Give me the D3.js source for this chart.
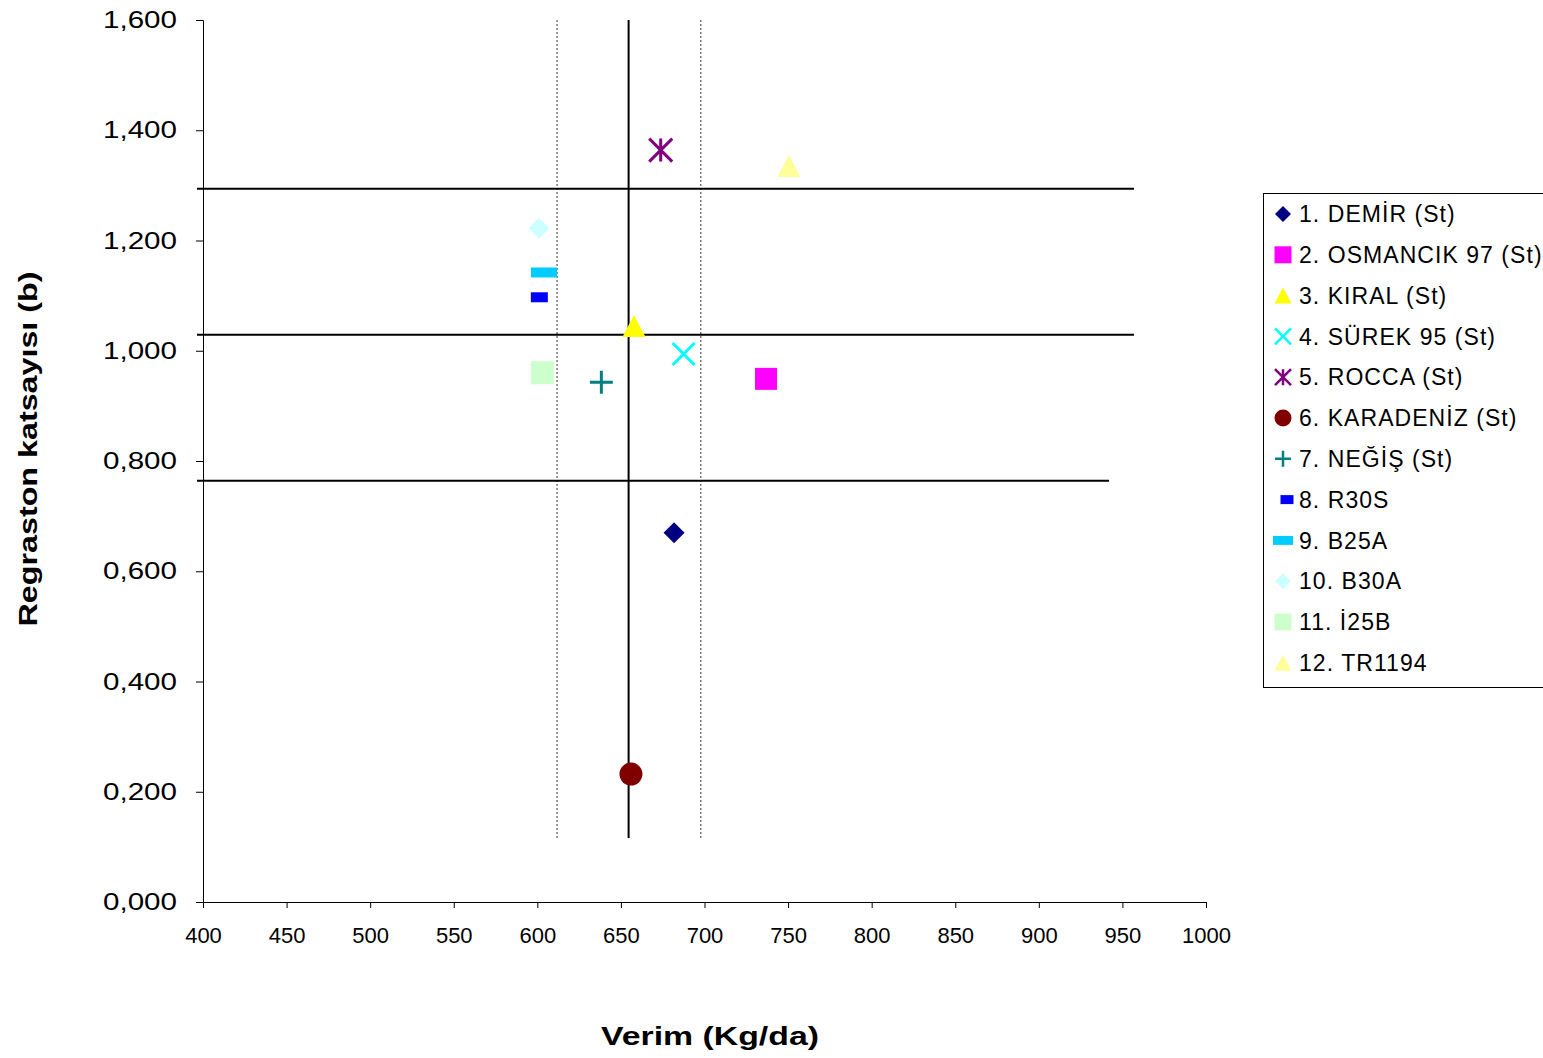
<!DOCTYPE html>
<html>
<head>
<meta charset="utf-8">
<script src="https://cdn.jsdelivr.net/npm/d3@7"></script>
<style>
  html, body { margin: 0; padding: 0; background: #fff; }
  svg { display: block; font-family: "Liberation Sans", Arial, sans-serif; }
</style>
</head>
<body>
<svg id="chart" width="1543" height="1058"></svg>
<script>
// Cultivars with mean yield (kg/da) and regression coefficient (b)
const cultivars = [
  "1. DEMİR (St)", "2. OSMANCIK 97 (St)", "3. KIRAL (St)", "4. SÜREK 95 (St)",
  "5. ROCCA (St)", "6. KARADENİZ (St)", "7. NEĞİŞ (St)", "8. R30S",
  "9. B25A", "10. B30A", "11. İ25B", "12. TR1194"
];
const yieldKgDa = [681.8, 736.8, 657.8, 687.5, 673.8, 656.0, 638.3, 601.2, 604.0, 601.0, 603.0, 750.5];
const regressionB = [0.670, 0.949, 1.045, 0.994, 1.364, 0.232, 0.943, 1.097, 1.142, 1.222, 0.960, 1.335];

// Axis ticks
const xTicks = [400, 450, 500, 550, 600, 650, 700, 750, 800, 850, 900, 950, 1000];
const yTicks = [0, 0.2, 0.4, 0.6, 0.8, 1.0, 1.2, 1.4, 1.6];

// Reference lines: mean yield ± deviation, mean b ± deviation
const yieldRefs = [611.8, 654.6, 697.8];
const yieldRefSpan = [0.116, 1.6];
const bRefs = [1.294, 1.029, 0.764];
const bRefEnds = [956.9, 956.9, 942.0];
const bRefStart = 396.4;

// Marker styling per cultivar
const markerStyle = [
  { shape: "diamond",  color: "#000080", w: 21, h: 21, lw: 16, lh: 16 },
  { shape: "square",   color: "#FF00FF", w: 22, h: 22, lw: 17, lh: 17 },
  { shape: "triangle", color: "#FFFF00", w: 23, h: 22, lw: 17, lh: 16 },
  { shape: "x",        color: "#00FFFF", w: 22, h: 22, lw: 16, lh: 16 },
  { shape: "star",     color: "#800080", w: 23, h: 23, lw: 16, lh: 16 },
  { shape: "circle",   color: "#800000", w: 23, h: 23, lw: 17, lh: 17 },
  { shape: "plus",     color: "#008080", w: 23, h: 23, lw: 16, lh: 16 },
  { shape: "rect",     color: "#0000FF", w: 17, h: 10, lw: 13, lh: 9 },
  { shape: "rect",     color: "#00CCFF", w: 26, h: 10, lw: 20, lh: 9 },
  { shape: "diamond",  color: "#CCFFFF", w: 21, h: 21, lw: 16, lh: 16 },
  { shape: "square",   color: "#CCFFCC", w: 23, h: 23, lw: 17, lh: 17 },
  { shape: "triangle", color: "#FFFF99", w: 23, h: 22, lw: 17, lh: 16 }
];

const svg = d3.select("#chart");
const x = d3.scaleLinear().domain([400, 1000]).range([203, 1206]);
const y = d3.scaleLinear().domain([0, 1.6]).range([902, 20]);

function shapePath(shape, w, h) {
  const a = w / 2, b = h / 2;
  switch (shape) {
    case "diamond":  return `M0,${-b}L${a},0L0,${b}L${-a},0Z`;
    case "square":
    case "rect":     return `M${-a},${-b}H${a}V${b}H${-a}Z`;
    case "triangle": return `M0,${-b}L${a},${b}L${-a},${b}Z`;
    case "circle":   return d3.symbol(d3.symbolCircle, Math.PI * a * a)();
    case "x":        return `M${-a},${-b}L${a},${b}M${a},${-b}L${-a},${b}`;
    case "plus":     return `M${-a},0H${a}M0,${-b}V${b}`;
    case "star":     return `M${-a},${-b}L${a},${b}M${a},${-b}L${-a},${b}M0,${-b}V${b}`;
  }
}
const stroked = s => s === "x" || s === "plus" || s === "star";

function drawMarker(g, st, w, h, sw) {
  const p = g.append("path").attr("d", shapePath(st.shape, w, h));
  if (stroked(st.shape)) {
    p.attr("fill", "none").attr("stroke", st.color).attr("stroke-width", sw);
  } else {
    p.attr("fill", st.color);
  }
}

// Axes
const xAxis = svg.append("g").attr("transform", `translate(0,${y(0)})`)
  .call(d3.axisBottom(x).tickValues(xTicks).tickSize(6).tickPadding(19).tickFormat(d3.format("d")));
xAxis.select(".domain").attr("stroke", "#000");
xAxis.selectAll(".tick line").attr("stroke", "#000");
xAxis.selectAll("text").attr("font-size", 22).attr("fill", "#000")
  .attr("font-family", "'Liberation Sans', Arial, sans-serif");

const yAxis = svg.append("g").attr("transform", `translate(${x(400)},0)`)
  .call(d3.axisLeft(y).tickValues(yTicks).tickSize(7).tickPadding(19)
    .tickFormat(d => d3.format(".3f")(d).replace(".", ",")));
yAxis.select(".domain").attr("stroke", "#000");
yAxis.selectAll(".tick line").attr("stroke", "#000");
yAxis.selectAll("text").attr("font-size", 24).attr("fill", "#000")
  .attr("font-family", "'Liberation Sans', Arial, sans-serif")
  .attr("textLength", 74).attr("lengthAdjust", "spacingAndGlyphs");

// Reference lines
svg.append("g").selectAll("line").data(yieldRefs).join("line")
  .attr("x1", d => x(d)).attr("x2", d => x(d))
  .attr("y1", y(yieldRefSpan[1])).attr("y2", y(yieldRefSpan[0]))
  .attr("stroke", (d, i) => i === 1 ? "#000" : "#333")
  .attr("stroke-width", (d, i) => i === 1 ? 2 : 1)
  .attr("stroke-dasharray", (d, i) => i === 1 ? null : "2,2");

svg.append("g").selectAll("line").data(bRefs).join("line")
  .attr("x1", x(bRefStart)).attr("x2", (d, i) => x(bRefEnds[i]))
  .attr("y1", d => y(d)).attr("y2", d => y(d))
  .attr("stroke", "#000").attr("stroke-width", 2);

// Points
const pts = svg.append("g");
cultivars.forEach((c, i) => {
  const g = pts.append("g").attr("transform", `translate(${x(yieldKgDa[i])},${y(regressionB[i])})`);
  const st = markerStyle[i];
  drawMarker(g, st, st.w, st.h, 3);
});

// Axis titles
svg.append("text")
  .attr("x", 710).attr("y", 1045).attr("text-anchor", "middle")
  .attr("font-size", 25).attr("font-weight", "bold")
  .attr("textLength", 218).attr("lengthAdjust", "spacingAndGlyphs")
  .text("Verim (Kg/da)");

svg.append("text")
  .attr("transform", "translate(37,449) rotate(-90)")
  .attr("text-anchor", "middle")
  .attr("font-size", 25).attr("font-weight", "bold")
  .attr("textLength", 355).attr("lengthAdjust", "spacingAndGlyphs")
  .text("Regraston katsayısı (b)");

// Legend
const legend = svg.append("g");
legend.append("rect").attr("x", 1263.5).attr("y", 193.5).attr("width", 300).attr("height", 494)
  .attr("fill", "#fff").attr("stroke", "#000").attr("stroke-width", 1);
cultivars.forEach((c, i) => {
  const cy = 214 + i * 40.8;
  const st = markerStyle[i];
  const g = legend.append("g").attr("transform", `translate(${i === 7 ? 1287 : 1283},${cy})`);
  drawMarker(g, st, st.lw, st.lh, 2.5);
  legend.append("text").attr("x", 1299).attr("y", cy).attr("dy", "0.36em")
    .attr("font-size", 23).attr("letter-spacing", 1.05).attr("fill", "#000")
    .text(c);
});
</script>
</body>
</html>
